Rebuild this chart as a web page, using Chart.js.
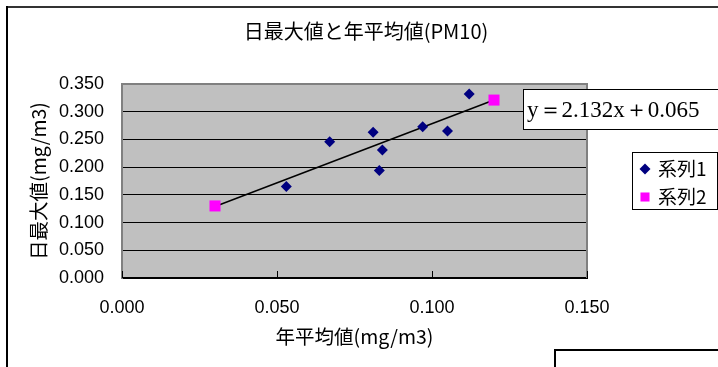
<!DOCTYPE html>
<html>
<head>
<meta charset="utf-8">
<script src="https://cdn.jsdelivr.net/npm/chart.js@4/dist/chart.umd.min.js"></script>
<style>
  html, body { margin: 0; padding: 0; background: #fff; overflow: hidden; }
  #wrap { position: absolute; left: 0; top: 0; width: 718px; height: 367px; }
</style>
</head>
<body>
<div id="wrap"><canvas id="pmChart" width="718" height="367"></canvas></div>
<script>
// 年平均値 / 日最大値 (mg/m3)
var series1X = [0.053, 0.067, 0.081, 0.083, 0.084, 0.097, 0.105, 0.112];
var series1Y = [0.165, 0.246, 0.263, 0.194, 0.231, 0.273, 0.265, 0.332];
var series2X = [0.030, 0.120];
var series2Y = [0.130, 0.321];
// trend line end points, y = 2.132x + 0.065
var trendX = [0.030, 0.120];
var trendY = [0.129, 0.321];
var trendLabel = 'y\uFF1D2.132x\uFF0B0.065';
var seriesNames = ['系列1', '系列2'];
var xTicks = [0, 0.05, 0.10, 0.15];
var yTicks = [0, 0.05, 0.10, 0.15, 0.20, 0.25, 0.30, 0.35];

function toPoints(xs, ys) {
  return xs.map(function (x, i) { return { x: x, y: ys[i] }; });
}

var JP = "'Noto Sans CJK JP', sans-serif";

var frame = {
  id: 'frame',
  beforeDraw: function (chart) {
    var ctx = chart.ctx, a = chart.chartArea;
    ctx.save();
    ctx.fillStyle = '#fff';
    ctx.fillRect(0, 0, chart.width, chart.height);
    ctx.fillStyle = '#c0c0c0';
    ctx.fillRect(a.left, a.top, a.right - a.left, a.bottom - a.top);
    ctx.restore();
  },
  beforeDatasetsDraw: function (chart) {
    var ctx = chart.ctx, a = chart.chartArea, xs = chart.scales.x;
    ctx.save();
    // plot border top / right
    ctx.strokeStyle = '#808080';
    ctx.lineWidth = 2;
    ctx.beginPath();
    ctx.moveTo(a.left, a.top);
    ctx.lineTo(a.right, a.top);
    ctx.lineTo(a.right, a.bottom);
    ctx.stroke();
    // inside tick marks on x axis
    ctx.strokeStyle = '#000';
    ctx.lineWidth = 1;
    xTicks.forEach(function (v) {
      var px = Math.round(xs.getPixelForValue(v)) + 0.5;
      ctx.beginPath();
      ctx.moveTo(px, a.bottom);
      ctx.lineTo(px, a.bottom - 7);
      ctx.stroke();
    });
    ctx.restore();
  },
  afterDraw: function (chart) {
    var ctx = chart.ctx;
    var h = Chart.helpers;
    ctx.save();

    // title
    ctx.fillStyle = '#000';
    ctx.font = '20px ' + JP;
    ctx.textAlign = 'center';
    ctx.textBaseline = 'middle';
    ctx.fillText('日最大値と年平均値(PM10)', 366, 31);

    // trend equation label
    ctx.fillStyle = '#fff';
    ctx.fillRect(523, 89, 200, 40);
    ctx.strokeStyle = '#000';
    ctx.lineWidth = 1;
    ctx.strokeRect(523.5, 89.5, 200, 40);
    ctx.fillStyle = '#000';
    ctx.font = "23px 'Liberation Serif', serif";
    ctx.textAlign = 'left';
    ctx.textBaseline = 'alphabetic';
    ctx.fillText(trendLabel, 527, 117);

    // legend
    ctx.fillStyle = '#fff';
    ctx.fillRect(632, 152, 85, 57);
    ctx.strokeRect(632.5, 152.5, 85, 57);
    var legendSizes = [5.5, 6.4];
    [0, 1].forEach(function (i) {
      var ds = chart.data.datasets[i];
      var ly = 169 + i * 28;
      ctx.fillStyle = ds.backgroundColor;
      ctx.strokeStyle = ds.borderColor;
      h.drawPoint(ctx, { pointStyle: ds.pointStyle, radius: legendSizes[i], rotation: 0, borderWidth: 0 }, 645, ly);
      ctx.fillStyle = '#000';
      ctx.font = '19px ' + JP;
      ctx.textBaseline = 'middle';
      ctx.fillText(ds.label, 658, ly);
    });

    // outer chart frame
    ctx.fillStyle = '#333';
    ctx.fillRect(6, 6, chart.width - 6, 2);
    ctx.fillStyle = '#000';
    ctx.fillRect(6, 6, 2, chart.height - 6);
    // neighbouring box at bottom right
    ctx.fillRect(554, 349, chart.width - 554, 2);
    ctx.fillRect(554, 349, 2, chart.height - 349);
    ctx.restore();
  }
};

new Chart(document.getElementById('pmChart'), {
  type: 'scatter',
  data: {
    datasets: [
      {
        label: seriesNames[0],
        data: toPoints(series1X, series1Y),
        pointStyle: 'rectRot',
        backgroundColor: '#000080',
        borderColor: '#000080',
        pointRadius: 5.5,
        pointBorderWidth: 0,
        order: 1
      },
      {
        label: seriesNames[1],
        data: toPoints(series2X, series2Y),
        pointStyle: 'rect',
        backgroundColor: '#ff00ff',
        borderColor: '#ff00ff',
        pointRadius: 7.8,
        pointBorderWidth: 0,
        order: 1
      },
      {
        label: 'trend',
        type: 'line',
        data: toPoints(trendX, trendY),
        borderColor: '#000',
        borderWidth: 1.5,
        pointRadius: 0,
        fill: false,
        order: 3
      }
    ]
  },
  options: {
    responsive: false,
    animation: false,
    events: [],
    layout: { padding: { left: 0, top: 84, right: 131, bottom: 0 } },
    plugins: {
      legend: { display: false },
      title: { display: false },
      tooltip: { enabled: false }
    },
    scales: {
      x: {
        type: 'linear',
        min: 0,
        max: 0.15,
        afterFit: function (s) { s.height = 89; },
        afterBuildTicks: function (s) { s.ticks = xTicks.map(function (v) { return { value: v }; }); },
        ticks: {
          color: '#000',
          padding: 19,
          maxRotation: 0,
          font: { family: "'Liberation Sans', Arial, sans-serif", size: 18 },
          callback: function (v) { return Number(v).toFixed(3); }
        },
        grid: { drawOnChartArea: false, drawTicks: false },
        border: { display: true, color: '#000', width: 2 },
        title: {
          display: true,
          text: '年平均値(mg/m3)',
          color: '#000',
          font: { family: JP, size: 19.5 },
          padding: { top: 0, bottom: 19 }
        }
      },
      y: {
        type: 'linear',
        min: 0,
        max: 0.35,
        afterFit: function (s) { s.width = 122; },
        afterBuildTicks: function (s) { s.ticks = yTicks.map(function (v) { return { value: v }; }); },
        ticks: {
          color: '#000',
          padding: 18,
          font: { family: "'Liberation Sans', Arial, sans-serif", size: 18 },
          callback: function (v) { return Number(v).toFixed(3); }
        },
        grid: { color: '#000', lineWidth: 1, drawTicks: false },
        border: { display: true, color: '#808080', width: 2 },
        title: {
          display: true,
          text: '日最大値(mg/m3)',
          color: '#000',
          font: { family: JP, size: 19.5 },
          padding: { top: 27, bottom: 0 }
        }
      }
    }
  },
  plugins: [frame]
});
</script>
</body>
</html>
